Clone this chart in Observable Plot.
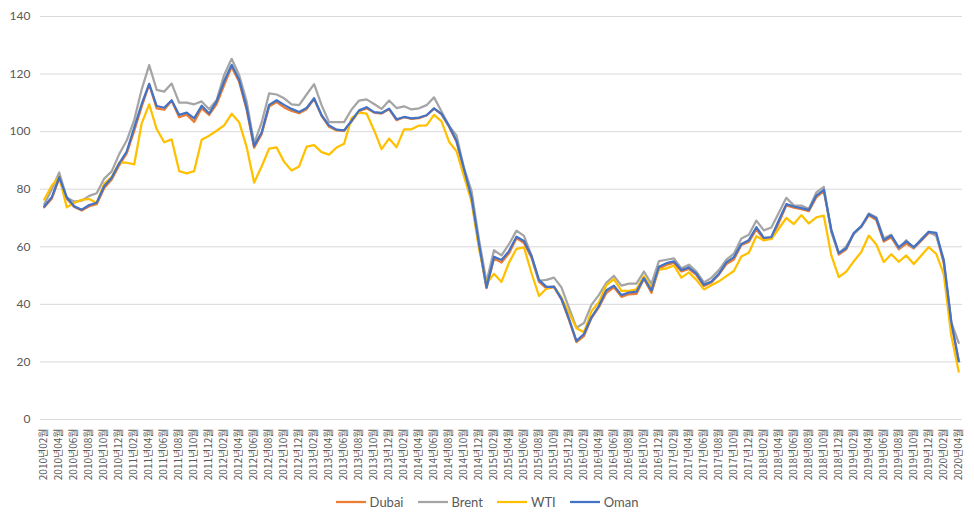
<!DOCTYPE html>
<html><head><meta charset="utf-8">
<script src="https://cdn.jsdelivr.net/npm/d3@7"></script>
<script src="https://cdn.jsdelivr.net/npm/@observablehq/plot@0.6"></script>
<style>
body{margin:0;background:#fff;}
#chart{width:974px;position:relative;}
.legend{display:flex;justify-content:center;align-items:center;height:28px;font-family:Lato,"Liberation Sans",sans-serif;font-size:13px;color:#595959;}
.item{display:flex;align-items:center;margin:0 7px;}
.item svg{margin-right:4px;}
</style></head><body><div id="chart"></div><script>
// categories: 2010년02월 .. 2020년04월
const months = [];
for (let y = 2010; y <= 2020; y++) {
  for (let m = 1; m <= 12; m++) {
    if (y === 2010 && m < 2) continue;
    if (y === 2020 && m > 4) break;
    months.push(`${y}년${String(m).padStart(2, "0")}월`);
  }
}
const yTicks = [0, 20, 40, 60, 80, 100, 120, 140];
const seriesNames = ["Dubai", "Brent", "WTI", "Oman"];
const seriesColors = ["#ED7D31", "#A5A5A5", "#FFC000", "#4472C4"];

const dubai = [
  73.7, 76.7, 83.7, 76.7, 73.8, 72.6, 74.1, 74.8, 80.4, 83.4, 88.3,
  92.4, 100.3, 108.7, 116.4, 108.1, 107.6, 110.7, 105.0, 105.9, 103.4, 108.1, 105.8,
  109.6, 116.2, 122.5, 117.3, 107.6, 94.4, 99.1, 108.7, 110.3, 108.4, 107.2, 106.4,
  107.8, 111.3, 105.5, 101.7, 100.4, 100.3, 103.5, 107.1, 108.1, 106.6, 106.3, 107.8,
  104.0, 105.0, 104.4, 104.7, 105.6, 108.0, 106.0, 101.7, 96.5, 86.8, 76.4, 60.5,
  45.6, 55.9, 54.5, 57.7, 63.0, 61.3, 56.2, 47.8, 45.5, 46.0, 41.7, 34.6,
  26.9, 29.0, 35.2, 39.0, 44.0, 45.9, 42.6, 43.5, 43.6, 48.9, 44.0, 52.4,
  53.7, 54.4, 51.4, 52.3, 50.2, 46.4, 47.6, 50.3, 54.0, 55.6, 60.6, 61.7,
  66.0, 62.7, 62.8, 68.3, 74.4, 73.6, 73.1, 72.4, 77.2, 79.4, 65.6, 57.3,
  59.1, 64.7, 66.9, 70.9, 69.3, 61.8, 63.3, 59.1, 61.1, 59.4, 62.1, 64.8,
  64.3, 54.2, 33.8, 20.4
];
const brent = [
  74.8, 79.9, 85.8, 77.0, 75.7, 76.0, 77.7, 78.6, 83.7, 86.2, 92.2,
  96.9, 104.0, 114.7, 123.1, 114.5, 113.9, 116.7, 110.1, 110.1, 109.5, 110.5, 107.8,
  111.0, 119.7, 125.3, 119.7, 110.5, 95.9, 103.1, 113.3, 112.9, 111.6, 109.5, 109.2,
  112.9, 116.5, 109.2, 103.3, 103.3, 103.3, 107.7, 110.8, 111.2, 109.6, 107.9, 110.8,
  108.2, 108.8, 107.7, 108.1, 109.2, 111.9, 107.0, 102.0, 98.7, 87.4, 79.4, 62.5,
  47.8, 58.8, 57.0, 60.9, 65.6, 63.8, 57.0, 48.2, 48.5, 49.3, 45.9, 38.9,
  31.9, 33.5, 39.8, 43.3, 47.6, 49.9, 46.5, 47.2, 47.2, 51.4, 47.1, 55.0,
  55.5, 56.0, 52.5, 53.8, 51.4, 47.6, 49.2, 51.9, 55.5, 57.6, 62.9, 64.2,
  69.1, 65.7, 66.7, 71.8, 77.0, 74.4, 74.3, 73.2, 78.9, 80.8, 65.0, 57.7,
  60.2, 64.4, 66.9, 71.6, 70.3, 63.0, 64.2, 59.5, 62.3, 59.6, 62.7, 65.2,
  63.7, 55.5, 33.7, 26.6
];
const wti = [
  76.4, 81.2, 84.3, 73.7, 75.3, 76.3, 76.6, 75.2, 81.9, 84.3, 89.2,
  89.2, 88.6, 102.9, 109.5, 100.9, 96.3, 97.3, 86.3, 85.5, 86.3, 97.2, 98.6,
  100.3, 102.2, 106.2, 103.3, 94.7, 82.3, 87.9, 94.1, 94.5, 89.5, 86.5, 87.9,
  94.8, 95.3, 92.9, 92.0, 94.5, 95.8, 104.7, 106.6, 106.3, 100.5, 93.9, 97.6,
  94.6, 100.8, 100.8, 102.1, 102.2, 105.8, 103.6, 96.5, 93.2, 84.4, 75.8, 59.3,
  47.2, 50.6, 47.8, 54.5, 59.3, 59.8, 50.9, 42.9, 45.5, 46.2, 42.4, 37.2,
  31.7, 30.3, 37.6, 40.8, 46.7, 48.8, 44.7, 44.7, 45.2, 49.8, 45.7, 52.0,
  52.5, 53.5, 49.3, 51.1, 48.5, 45.2, 46.6, 48.0, 49.8, 51.6, 56.6, 57.9,
  63.7, 62.2, 62.7, 66.3, 70.0, 67.9, 71.0, 68.1, 70.2, 70.8, 57.0, 49.5,
  51.4, 55.0, 58.2, 63.9, 60.8, 54.7, 57.4, 54.8, 57.0, 54.0, 57.0, 59.9,
  57.5, 50.5, 29.2, 16.6
];
const oman = [
  74.0, 77.2, 84.2, 77.2, 74.1, 72.9, 74.5, 75.3, 81.0, 84.0, 89.0,
  93.1, 101.4, 109.6, 116.6, 108.9, 108.3, 110.9, 105.8, 106.6, 104.6, 109.0, 106.3,
  110.5, 117.5, 123.2, 118.0, 108.4, 95.0, 99.7, 109.3, 110.9, 109.3, 107.9, 106.8,
  108.2, 111.6, 105.7, 102.1, 100.7, 100.4, 103.8, 107.4, 108.5, 106.8, 106.5, 108.0,
  104.3, 105.1, 104.6, 104.9, 105.7, 108.1, 106.2, 102.0, 96.8, 87.0, 77.2, 61.0,
  45.9, 56.5, 55.4, 58.5, 63.5, 62.0, 56.8, 48.5, 46.1, 46.2, 41.9, 35.0,
  27.3, 29.7, 35.5, 39.5, 44.9, 46.5, 43.2, 44.1, 44.4, 49.1, 44.8, 53.1,
  54.3, 54.9, 51.9, 52.8, 50.7, 46.8, 47.9, 50.6, 54.6, 56.4, 61.0, 62.3,
  66.8, 63.1, 63.4, 69.2, 74.8, 74.0, 73.4, 72.8, 77.8, 79.8, 65.9, 57.8,
  59.5, 64.8, 67.2, 71.3, 69.9, 62.3, 63.9, 59.8, 61.9, 59.9, 62.4, 65.2,
  64.8, 55.2, 34.0, 20.2
];
const seriesValues = [dubai, brent, wti, oman];

const tables = seriesValues.map((vals, k) =>
  vals.map((v, i) => ({month: months[i], value: v, series: seriesNames[k]})));

const chart = Plot.plot({
  width: 974,
  height: 488,
  marginLeft: 40,
  marginRight: 12,
  marginTop: 16,
  marginBottom: 69,
  style: {fontFamily: "Lato, 'Liberation Sans', sans-serif", fontSize: "12px", color: "#595959", background: "#fff"},
  x: {type: "point", domain: months, padding: 0.5, label: null},
  y: {domain: [0, 140], label: null},
  marks: [
    Plot.ruleY(yTicks, {stroke: "#d9d9d9", strokeWidth: 1}),
    Plot.axisY(yTicks, {tickSize: 0, tickPadding: 10, label: null, fontSize: 12}),
    Plot.axisX(months.filter((d, i) => i % 2 === 0), {
      tickSize: 0, tickPadding: 9, tickRotate: -90, label: null,
      fontSize: 10, fontFamily: "'Noto Sans CJK KR', sans-serif"
    }),
    ...tables.map((t, k) => Plot.lineY(t, {
      x: "month", y: "value", stroke: seriesColors[k], strokeWidth: 2.25,
      strokeLinejoin: "round", strokeLinecap: "round"
    }))
  ]
});
const root = document.getElementById("chart");
root.appendChild(chart);

const legend = document.createElement("div");
legend.className = "legend";
seriesNames.forEach((name, k) => {
  const item = document.createElement("div");
  item.className = "item";
  item.innerHTML = `<svg width="30" height="6"><line x1="0" x2="30" y1="3" y2="3" stroke="${seriesColors[k]}" stroke-width="2.25"/></svg><span>${name}</span>`;
  legend.appendChild(item);
});
root.appendChild(legend);
</script></body></html>
